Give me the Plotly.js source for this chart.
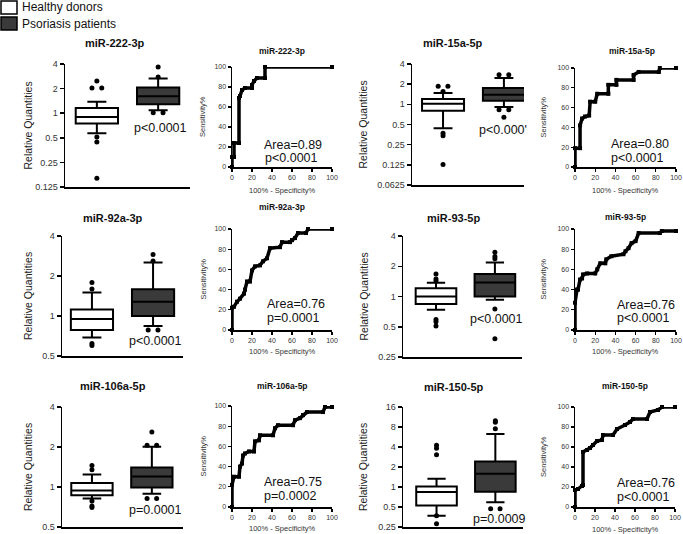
<!DOCTYPE html>
<html><head><meta charset="utf-8">
<script src="https://cdn.plot.ly/plotly-3.0.1.min.js"></script>
<style>html,body{margin:0;padding:0;background:#fff}</style>
</head><body><div id="chart" style="width:683px;height:534px"></div>
<script>
// ---------------- DATA ----------------
const mirnas = ["miR-222-3p","miR-15a-5p","miR-92a-3p","miR-93-5p","miR-106a-5p","miR-150-5p"];
const groups = ["Healthy donors","Psoriasis patients"];

// Tukey box statistics, [healthy, patients] per miRNA (Relative Quantities)
const lowerFence = [[0.57,1.09],[0.44,0.91],[0.69,0.84],[0.74,0.93],[0.82,0.89],[0.37,0.59]];
const q1         = [[0.75,1.29],[0.80,1.13],[0.785,1.00],[0.84,1.00],[0.865,0.99],[0.525,0.85]];
const median     = [[0.90,1.61],[1.02,1.39],[0.95,1.28],[1.00,1.38],[0.94,1.20],[0.84,1.58]];
const q3         = [[1.16,2.06],[1.20,1.75],[1.12,1.59],[1.21,1.67],[1.07,1.40],[1.02,2.42]];
const upperFence = [[1.38,2.66],[1.48,2.47],[1.50,2.53],[1.37,2.18],[1.24,2.01],[1.33,6.3]];

const outliersHealthy = [
  [2.48,2.04,2.04,0.51,0.445,0.16],
  [1.86,1.86,1.55,0.37,0.34,0.126],
  [1.79,1.60,0.62,0.60],
  [1.67,1.49,1.43,0.59,0.56,0.51],
  [1.45,1.35,0.785,0.72,0.70],
  [4.26,3.84,3.05,0.37,0.28]
];
const outliersPatients = [
  [3.68,2.78,1.01,1.01],
  [2.77,2.77,0.83,0.83,0.64],
  [2.9,2.59,0.785,0.785],
  [2.76,2.5,2.37,0.75,0.38],
  [2.59,2.06,2.06,0.82,0.82],
  [9.96,9.4,7.5,0.47,0.47]
];
const boxPValues = ["p<0.0001","p<0.000'","p<0.0001","p<0.0001","p=0.0001","p=0.0009"];

const boxTickVals = [
  [0.125,0.25,0.5,1,2,4],
  [0.0625,0.125,0.25,0.5,1,2,4],
  [0.5,1,2,4],
  [0.25,0.5,1,2,4],
  [0.5,1,2,4],
  [0.25,0.5,1,2,4,8,16]
];
const boxTickText = [
  ["0.125","0.25","0.5","1","2","4"],
  ["0.0625","0.125","0.25","0.5","1","2","4"],
  ["0.5","1","2","4"],
  ["0.25","0.5","1","2","4"],
  ["0.5","1","2","4"],
  ["0.25","0.5","1","2","4","8","16"]
];

// ROC curves: 100% - Specificity% (x) vs Sensitivity% (y)
const roc222x = [0,0,2,2,7,7,8,10,13,20,20,22,25,33,33,100];
const roc222y = [0,10,10,24,24,69,71,77,79,79,82,86,89,89,100,100];
const roc15ax = [0,0,5,5,7,10,14,15,20,22,33,33,41,41,58,58,63,83,84,100];
const roc15ay = [0,19,19,42,49,51,52,66,66,74,74,83,83,88,88,93,96,96,100,100];
const roc92ax = [0,0,2,5,8,12,13,15,18,20,23,28,31,35,38,48,50,58,60,63,66,74,76,100];
const roc92ay = [0,22,23,28,31,36,40,48,48,59,63,64,68,71,81,82,87,87,89,91,96,96,100,100];
const roc93x  = [0,0,2,3,5,7,8,12,20,22,25,30,31,36,48,50,53,56,60,63,84,86,100];
const roc93y  = [0,27,40,40,50,51,55,56,56,60,66,66,70,73,75,78,81,86,88,96,96,98,98];
const roc106ax = [0,0,2,7,8,10,11,13,17,22,23,27,28,41,43,46,61,63,68,71,75,91,93,100];
const roc106ay = [0,22,30,30,40,43,51,53,55,55,65,66,71,71,78,81,81,86,88,91,94,94,99,99];
const roc150x = [0,0,3,7,8,8,12,15,18,22,27,28,38,42,50,55,58,72,75,83,87,100];
const roc150y = [0,17,18,21,22,55,57,59,62,66,67,72,72,78,82,85,88,88,95,97,100,100];
const rocX = [roc222x,roc15ax,roc92ax,roc93x,roc106ax,roc150x];
const rocY = [roc222y,roc15ay,roc92ay,roc93y,roc106ay,roc150y];
const rocArea = ["Area=0.89","Area=0.80","Area=0.76","Area=0.76","Area=0.75","Area=0.76"];
const rocP    = ["p<0.0001","p<0.0001","p=0.0001","p<0.0001","p=0.0002","p<0.0001"];

// ---------------- LAYOUT (pixels) ----------------
const W=683,H=534;
const X=p=>p/W, Y=p=>1-p/H;
const FONT='"Liberation Sans", Arial, sans-serif';
const boxRects=[[65,190,64,187],[412,524,64,185],[62,183,236,356],[403,522,236,357],[62,183,407,527],[403,523,407,527]];
const rocRects=[[232,332,67,167],[575,676,68,167],[232,332,229,330],[575,676,229,330],[232,332,406,507],[575,675,407,507]];
const boxXRange=[[-0.52,1.52],[-0.51,1.33],[-0.49,1.49],[-0.56,1.46],[-0.5,1.52],[-0.57,1.47]];
const boxTitlePos=[[115,43],[453,43],[113,218],[453,218],[113,386],[454,387]];
const boxYTitleX=[28,363,28,363,28,363];
const boxPPos=[[132,128],[477,130],[127,341],[468,319],[127,510],[471,519]];
const rocTitlePos=[[282,51],[632,51],[282,207],[625,217],[282,386],[625,386]];
const rocSensX=[203,543,203,543,203,543];
const rocSpecY=[190,190,352,352,528,529];
const rocAreaPos=[[262,145],[609,144],[265,304],[615,305],[262,482],[615,483]];
const rocPPos=[[263,158],[609,158],[265,318],[615,318],[262,496],[615,497]];

const traces=[];
const layout={width:W,height:H,margin:{l:0,r:0,t:0,b:0},showlegend:false,
  paper_bgcolor:'#fff',plot_bgcolor:'rgba(0,0,0,0)',font:{family:FONT,color:'#111'},
  annotations:[],shapes:[]};
const ann=(text,x,y,o)=>layout.annotations.push(Object.assign({text,x:X(x),y:Y(y),xref:'paper',yref:'paper',showarrow:false,xanchor:'center',yanchor:'middle',font:{family:FONT,size:12,color:'#111'}},o||{}));

function jitter(vals,center){
  return vals.map((v,k)=>{
    const dup=vals.filter(w=>w===v).length;
    if(dup<2) return center;
    const idx=vals.slice(0,k).filter(w=>w===v).length;
    return center+(idx===0?-0.08:0.08);
  });
}

for(let i=0;i<6;i++){
  const bi=2*i+1, ri=2*i+2;
  const bxn=bi===1?'x':'x'+bi, byn=bi===1?'y':'y'+bi;
  const rxn='x'+ri, ryn='y'+ri;
  const br=boxRects[i], rr=rocRects[i];
  const tv=boxTickVals[i];
  layout['xaxis'+(bi===1?'':bi)]={domain:[X(br[0]),X(br[1])],range:boxXRange[i],anchor:byn,
    showline:true,linecolor:'#000',linewidth:1.5,showticklabels:false,ticks:'',showgrid:false,zeroline:false};
  layout['yaxis'+(bi===1?'':bi)]={domain:[Y(br[3]),Y(br[2])],type:'log',
    range:[Math.log10(tv[0]),Math.log10(tv[tv.length-1])],anchor:bxn,
    tickmode:'array',tickvals:tv,ticktext:boxTickText[i],ticks:'outside',ticklen:4,tickwidth:1.5,tickcolor:'#000',
    showline:true,linecolor:'#000',linewidth:1.5,showgrid:false,zeroline:false,tickfont:{family:FONT,size:9,color:'#333'}};
  layout['xaxis'+ri]={domain:[X(rr[0]),X(rr[1])],range:[0,100],anchor:ryn,tickvals:[0,20,40,60,80,100],
    ticks:'outside',ticklen:3,tickwidth:1.2,tickcolor:'#000',showline:true,linecolor:'#000',linewidth:1.5,
    showgrid:false,zeroline:false,tickfont:{family:FONT,size:7,color:'#333'}};
  layout['yaxis'+ri]={domain:[Y(rr[3]),Y(rr[2])],range:[0,100],anchor:rxn,tickvals:[0,20,40,60,80,100],
    ticks:'outside',ticklen:3,tickwidth:1.2,tickcolor:'#000',showline:true,linecolor:'#000',linewidth:1.5,
    showgrid:false,zeroline:false,tickfont:{family:FONT,size:7,color:'#333'}};

  for(let g=0;g<2;g++){
    traces.push({type:'box',name:groups[g],xaxis:bxn,yaxis:byn,x:[g],
      q1:[q1[i][g]],median:[median[i][g]],q3:[q3[i][g]],lowerfence:[lowerFence[i][g]],upperfence:[upperFence[i][g]],
      width:0.69,whiskerwidth:0.45,boxpoints:false,fillcolor:g?'#3a3a3a':'#ffffff',
      line:{color:'#000',width:2},hoverinfo:'skip'});
    const ov=g?outliersPatients[i]:outliersHealthy[i];
    traces.push({type:'scatter',mode:'markers',xaxis:bxn,yaxis:byn,x:jitter(ov,g),y:ov,
      marker:{color:'#000',size:5},cliponaxis:false,hoverinfo:'skip'});
  }
  traces.push({type:'scatter',mode:'lines+markers',xaxis:rxn,yaxis:ryn,x:rocX[i],y:rocY[i],
    line:{color:'#000',width:3.5},marker:{color:'#000',size:4,symbol:'square'},cliponaxis:false,hoverinfo:'skip'});

  ann('<b>'+mirnas[i]+'</b>',boxTitlePos[i][0],boxTitlePos[i][1],{font:{family:FONT,size:11,color:'#111'}});
  ann('Relative Quantities',boxYTitleX[i],(br[2]+br[3])/2,{textangle:-90,font:{family:FONT,size:10.5,color:'#222'}});
  ann(boxPValues[i],boxPPos[i][0],boxPPos[i][1],{xanchor:'left',font:{family:FONT,size:12.5,color:'#111'}});
  ann('<b>'+mirnas[i]+'</b>',rocTitlePos[i][0],rocTitlePos[i][1],{font:{family:FONT,size:8.5,color:'#111'}});
  ann('Sensitivity%',rocSensX[i],(rr[2]+rr[3])/2,{textangle:-90,font:{family:FONT,size:7.5,color:'#333'}});
  ann('100% - Specificity%',(rr[0]+rr[1])/2,rocSpecY[i],{font:{family:FONT,size:7.5,color:'#333'}});
  ann(rocArea[i],rocAreaPos[i][0],rocAreaPos[i][1],{xanchor:'left',font:{family:FONT,size:12.5,color:'#111'}});
  ann(rocP[i],rocPPos[i][0],rocPPos[i][1],{xanchor:'left',font:{family:FONT,size:12.5,color:'#111'}});
}

// legend
layout.shapes.push({type:'rect',xref:'paper',yref:'paper',x0:X(1),x1:X(17),y0:Y(14),y1:Y(1),line:{color:'#000',width:1.5},fillcolor:'#fff'});
layout.shapes.push({type:'rect',xref:'paper',yref:'paper',x0:X(1),x1:X(17),y0:Y(30),y1:Y(17),line:{color:'#000',width:1.5},fillcolor:'#3a3a3a'});
ann(groups[0],20,7,{xanchor:'left',font:{family:FONT,size:12,color:'#111'}});
ann(groups[1],20,23.5,{xanchor:'left',font:{family:FONT,size:12,color:'#111'}});

Plotly.newPlot('chart',traces,layout,{staticPlot:true,displayModeBar:false});
</script></body></html>
